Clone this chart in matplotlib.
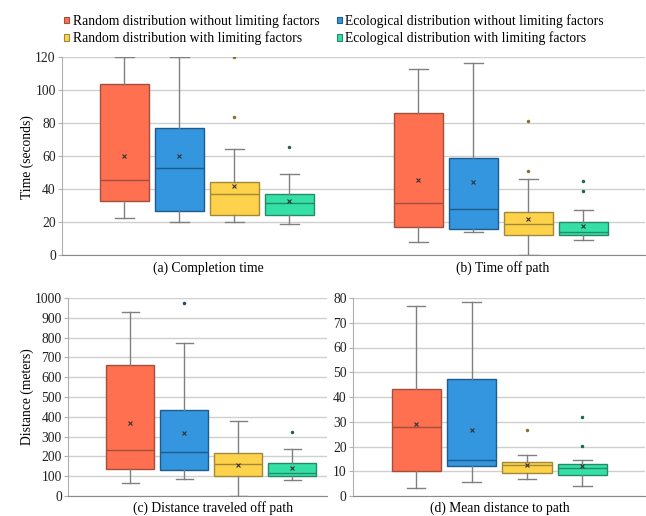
import matplotlib
matplotlib.use("Agg")
import matplotlib.pyplot as plt
from matplotlib.patches import Patch

plt.rcParams['font.family'] = ['Liberation Serif', 'DejaVu Serif']
plt.rcParams['font.size'] = 9.8

groups = ["Random distribution without limiting factors",
          "Ecological distribution without limiting factors",
          "Random distribution with limiting factors",
          "Ecological distribution with limiting factors"]
fills = ["#ff7050", "#3396de", "#ffd24b", "#34e0a6"]
edges = ["#a0503c", "#1f5c8c", "#a08a3a", "#268a68"]
fly = ["#7a3a2a", "#1f4a6e", "#8a7030", "#1f6650"]

# (a) Completion time (seconds)
a_low = [22.3, 20.2, 19.8, 18.6]
a_q1 = [33.0, 26.5, 24.3, 24.1]
a_med = [45.3, 52.6, 37.0, 31.4]
a_q3 = [103.8, 76.7, 44.5, 37.2]
a_high = [120, 120, 64.2, 48.8]
a_mean = [59.9, 59.7, 41.7, 32.6]
a_out = [[], [], [120, 83.6], [65.4]]

# (b) Time off path (seconds)
b_low = [8.1, 14.2, 0.0, 8.9]
b_q1 = [16.8, 16.0, 11.9, 12.3]
b_med = [31.4, 27.7, 18.6, 14.2]
b_q3 = [86.0, 58.5, 26.3, 19.8]
b_high = [112.8, 116.2, 46.0, 27.1]
b_mean = [45.3, 44.5, 21.9, 17.8]
b_out = [[], [], [81.4, 50.8], [45.1, 38.9]]

# (c) Distance traveled off path (meters)
c_low = [65.8, 84.3, 0.0, 79.3]
c_q1 = [138, 131.5, 103, 103]
c_med = [231, 221, 162, 118]
c_q3 = [664, 433, 219, 168.6]
c_high = [930.9, 772, 381, 237.8]
c_mean = [367.6, 318.7, 158.5, 141.7]
c_out = [[], [976], [], [323.8]]

# (d) Mean distance to path
d_low = [3.2, 5.5, 6.7, 3.9]
d_q1 = [10.1, 12.0, 9.2, 8.4]
d_med = [27.9, 14.6, 12.4, 11.2]
d_q3 = [43.2, 47.2, 13.9, 13.1]
d_high = [76.9, 78.4, 16.6, 14.7]
d_mean = [28.9, 26.8, 12.4, 12.3]
d_out = [[], [], [26.6], [31.8, 20.4]]

W, H = 646, 516
fig = plt.figure(figsize=(W / 100, H / 100), dpi=100)


def px_axes(x0, y0, x1, y1):
    return fig.add_axes([x0 / W, 1 - y1 / H, (x1 - x0) / W, (y1 - y0) / H])


def style(ax, ymax, step):
    ax.set_ylim(0, ymax)
    ax.set_yticks(range(0, ymax + 1, step))
    ax.set_xticks([])
    ax.grid(axis='y', color='#cfcfcf', lw=1)
    ax.set_axisbelow(True)
    for s in ['top', 'right']:
        ax.spines[s].set_visible(False)
    ax.spines['left'].set_color('#b0b0b0')
    ax.spines['bottom'].set_color('#8a8a8a')
    ax.tick_params(axis='y', length=3, width=0.8, color='#b0b0b0', pad=1.5,
                   labelcolor='#222222', labelsize=9.8)


def draw(ax, offset, low, q1, med, q3, high, mean, out):
    for i in range(4):
        st = dict(whislo=low[i], q1=q1[i], med=med[i], q3=q3[i], whishi=high[i],
                  mean=mean[i], fliers=out[i])
        ax.bxp([st], positions=[offset + i], widths=0.89, capwidths=0.33,
               patch_artist=True, showmeans=True, manage_ticks=False,
               boxprops=dict(facecolor=fills[i], edgecolor=edges[i], lw=1),
               medianprops=dict(color=edges[i], lw=1),
               whiskerprops=dict(color='#808080', lw=1),
               capprops=dict(color='#808080', lw=1),
               meanprops=dict(marker='x', markersize=3, markeredgecolor='#333333',
                              markeredgewidth=0.8),
               flierprops=dict(marker='o', markersize=1.5, markerfacecolor=fly[i],
                               markeredgecolor=fly[i]))


# top row: one wide axis with two groups
ax1 = px_axes(62, 57, 645, 255)
style(ax1, 120, 20)
draw(ax1, 0, a_low, a_q1, a_med, a_q3, a_high, a_mean, a_out)
draw(ax1, 5.345, b_low, b_q1, b_med, b_q3, b_high, b_mean, b_out)
ax1.set_xlim(-1.136, 9.464)

ax2 = px_axes(68, 298, 327, 496)
style(ax2, 1000, 100)
draw(ax2, 0, c_low, c_q1, c_med, c_q3, c_high, c_mean, c_out)
ax2.set_xlim(-1.157, 3.64)

ax3 = px_axes(353, 298, 645, 496)
style(ax3, 80, 10)
draw(ax3, 0, d_low, d_q1, d_med, d_q3, d_high, d_mean, d_out)
ax3.set_xlim(-1.14, 4.13)

fig.text(208 / W, 1 - 268 / H, "(a) Completion time", ha='center', va='center')
fig.text(503 / W, 1 - 268 / H, "(b) Time off path", ha='center', va='center')
fig.text(213 / W, 1 - 508 / H, "(c) Distance traveled off path", ha='center', va='center')
fig.text(500 / W, 1 - 508 / H, "(d) Mean distance to path", ha='center', va='center')
fig.text(27 / W, 1 - 157 / H, "Time (seconds)", rotation=90, ha='center', va='center')
fig.text(27 / W, 1 - 397 / H, "Distance (meters)", rotation=90, ha='center', va='center')

order = [0, 2, 1, 3]
handles = [Patch(facecolor=fills[i], edgecolor=edges[i], lw=0.8) for i in order]
fig.legend(handles, [groups[i] for i in order], ncol=2, frameon=False,
           loc='upper left', bbox_to_anchor=(64 / W, 1 - 14 / H), borderpad=0,
           borderaxespad=0, handlelength=0.38, handleheight=0.38, handletextpad=0.25,
           columnspacing=1.3, labelspacing=0.28)

fig.savefig("out.png", dpi=100)
